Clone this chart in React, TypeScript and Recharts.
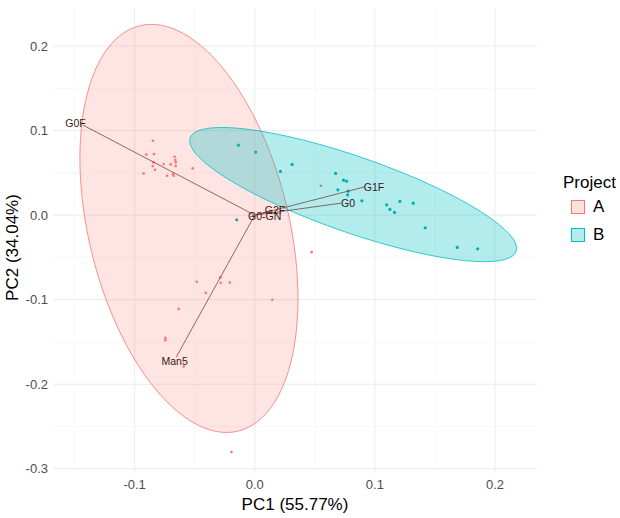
import React from 'react';
import { ScatterChart, Scatter, XAxis, YAxis, CartesianGrid } from 'recharts';

// ---- data ----
const pc1A = [-0.0848, -0.0903, -0.0839, -0.0667, -0.0661, -0.0658, -0.0842, -0.0758, -0.07, -0.085, -0.0658, -0.0831, -0.0517, -0.0925, -0.0731, -0.0681, -0.0675, 0.055, 0.0473, 0.0146, -0.0483, -0.0408, -0.0286, -0.0283, -0.0208, -0.0633, -0.0744, -0.0744, -0.0592, -0.0194];
const pc2A = [0.0879, 0.0718, 0.0722, 0.069, 0.0651, 0.0624, 0.0624, 0.0604, 0.06, 0.058, 0.058, 0.0536, 0.0553, 0.0493, 0.0465, 0.0485, 0.0465, 0.0347, -0.0438, -0.1, -0.0789, -0.092, -0.0734, -0.0801, -0.0796, -0.1109, -0.1452, -0.148, -0.179, -0.2801];

const pc1B = [-0.0136, 0.0008, 0.0311, 0.0214, 0.0673, 0.0739, 0.0764, 0.0692, 0.0778, 0.0773, 0.0892, 0.1098, 0.1208, 0.1319, 0.1125, 0.1164, 0.1419, 0.1686, 0.1856, -0.015];
const pc2B = [0.0828, 0.0746, 0.06, 0.0517, 0.0493, 0.0414, 0.0402, 0.0299, 0.0284, 0.024, 0.0169, 0.0122, 0.0162, 0.0142, 0.0067, 0.0032, -0.015, -0.0382, -0.0399, -0.0056];

const loadingNames = ['G0F', 'Man5', 'G1F', 'G0', 'G2F', 'G0-GN'];
const loadingPC1 = [-0.143, -0.0653, 0.0917, 0.0719, 0.0125, -0.004];
const loadingPC2 = [0.1065, -0.1677, 0.0335, 0.0142, 0.0047, -0.002];
const labelPC1 = [-0.1492, -0.0667, 0.0993, 0.0777, 0.0169, 0.0083];
const labelPC2 = [0.1089, -0.1724, 0.0335, 0.0146, 0.0059, -0.0008];

// ellipse parameters: centre, conjugate half-axis vectors
const ellipseA = { cx: -0.0548, cy: -0.0157, ax: 0.0908, ay: -0.0831, bx: 0, by: 0.2266 };
const ellipseB = { cx: 0.0819, cy: 0.0243, ax: 0.1361, ay: -0.0637, bx: 0, by: 0.0473 };

const xTicks = [-0.1, 0, 0.1, 0.2];
const yTicks = [-0.3, -0.2, -0.1, 0, 0.1, 0.2];
const xMinor = [-0.15, -0.05, 0.05, 0.15];
const yMinor = [-0.25, -0.15, -0.05, 0.05, 0.15];
const groups = ['A', 'B'];

// ---- derived tables ----
const ptsA = pc1A.map((x, i) => ({ x, y: pc2A[i] }));
const ptsB = pc1B.map((x, i) => ({ x, y: pc2B[i] }));
const ellipsePoints = (e: typeof ellipseA) => {
  const out: { x: number; y: number }[] = [];
  const n = 120;
  for (let i = 0; i < n; i++) {
    const t = (2 * Math.PI * i) / n;
    out.push({ x: e.cx + e.ax * Math.cos(t) + e.bx * Math.sin(t), y: e.cy + e.ay * Math.cos(t) + e.by * Math.sin(t) });
  }
  return out;
};
const ellA = ellipsePoints(ellipseA);
const ellB = ellipsePoints(ellipseB);
const labels = loadingNames.map((name, i) => ({ x: labelPC1[i], y: labelPC2[i], name }));

const FONT = '"Liberation Sans", Arial, sans-serif';
const RED = '#F8766D';
const CYAN = '#00BFC4';

const noShape = () => <g />;

const polygon = (fill: string, stroke: string) => (props: any) => {
  const pts = props.points || [];
  if (!pts.length) return <g />;
  const d = pts.map((p: any, i: number) => `${i ? 'L' : 'M'}${p.x},${p.y}`).join(' ') + ' Z';
  return <path d={d} fill={fill} stroke={stroke} strokeWidth={0.8} />;
};

const segLine = (props: any) => {
  const pts = props.points || [];
  if (pts.length < 2) return <g />;
  return <line x1={pts[0].x} y1={pts[0].y} x2={pts[1].x} y2={pts[1].y} stroke="#7a3535" strokeWidth={0.75} />;
};

const dot = (r: number, fill: string) => (p: any) => <circle cx={p.cx} cy={p.cy} r={r} fill={fill} />;

const labelShape = (p: any) => (
  <text x={p.cx} y={p.cy} textAnchor="middle" dominantBaseline="central" fontSize={10.5} fontFamily={FONT} fill="#3a1a1a">
    {p.payload.name}
  </text>
);

const LegendBox = () => (
  <div style={{ position: 'absolute', left: 558, top: 170, width: 62, height: 80, fontFamily: FONT, color: '#000' }}>
    <div style={{ position: 'absolute', left: 5, top: 3, fontSize: 17, lineHeight: '20px', whiteSpace: 'nowrap' }}>Project</div>
    {groups.map((g, i) => (
      <React.Fragment key={g}>
        <div
          style={{
            position: 'absolute',
            left: 13,
            top: 30 + i * 28,
            width: 12,
            height: 12,
            background: i === 0 ? 'rgba(248,118,109,0.22)' : 'rgba(0,191,196,0.3)',
            border: `1.5px solid ${i === 0 ? RED : CYAN}`,
          }}
        />
        <div style={{ position: 'absolute', left: 35, top: 27 + i * 28, fontSize: 17, lineHeight: '20px' }}>{g}</div>
      </React.Fragment>
    ))}
  </div>
);

const YTitle = (props: any) => {
  const vb = props.viewBox || { x: 0, y: 0, width: 0, height: 0 };
  const x = 12;
  const y = vb.y + vb.height / 2 + 7;
  return (
    <text x={x} y={y} transform={`rotate(-90, ${x}, ${y})`} textAnchor="middle" dominantBaseline="central" fontSize={17} fontFamily={FONT} fill="#000">
      PC2 (34.04%)
    </text>
  );
};

export default function App() {
  return (
    <div style={{ position: 'absolute', left: 0, top: 0, width: 620, height: 518, background: '#fff' }}>
      <ScatterChart width={620} height={518} margin={{ top: 8, right: 83, left: 0, bottom: 0 }}>
        <CartesianGrid horizontalValues={yMinor} verticalValues={xMinor} stroke="#F4F4F4" strokeWidth={0.6} />
        <CartesianGrid horizontalValues={yTicks} verticalValues={xTicks} stroke="#EBEBEB" strokeWidth={1} />
        <XAxis
          type="number"
          dataKey="x"
          domain={[-0.168, 0.235]}
          allowDataOverflow
          ticks={xTicks}
          tickFormatter={(v: number) => v.toFixed(1)}
          axisLine={false}
          tickLine={false}
          tickSize={0}
          tickMargin={7}
          height={45}
          tick={{ fontSize: 13, fill: '#4D4D4D', fontFamily: FONT }}
          label={{ value: 'PC1 (55.77%)', position: 'insideBottom', offset: 8, fontSize: 17, fill: '#000', fontFamily: FONT }}
        />
        <YAxis
          type="number"
          dataKey="y"
          domain={[-0.305, 0.245]}
          allowDataOverflow
          ticks={yTicks}
          tickFormatter={(v: number) => v.toFixed(1)}
          axisLine={false}
          tickLine={false}
          tickSize={0}
          tickMargin={5}
          width={53}
          tick={{ fontSize: 13, fill: '#4D4D4D', fontFamily: FONT }}
          label={<YTitle />}
        />
        <Scatter data={ptsA} shape={dot(1.3, RED)} isAnimationActive={false} legendType="none" />
        <Scatter data={ptsB} shape={dot(1.6, '#00A8AC')} isAnimationActive={false} legendType="none" />
        <Scatter data={ellA} shape={noShape} line={polygon('rgba(248,118,109,0.2)', RED)} lineType="joint" isAnimationActive={false} legendType="none" />
        <Scatter data={ellB} shape={noShape} line={polygon('rgba(0,191,196,0.3)', CYAN)} lineType="joint" isAnimationActive={false} legendType="none" />
        {loadingNames.map((n, i) => (
          <Scatter
            key={n}
            data={[{ x: 0, y: 0 }, { x: loadingPC1[i], y: loadingPC2[i] }]}
            shape={noShape}
            line={segLine}
            lineType="joint"
            isAnimationActive={false}
            legendType="none"
          />
        ))}
        <Scatter data={labels} shape={labelShape} isAnimationActive={false} legendType="none" />
      </ScatterChart>
      <LegendBox />
    </div>
  );
}
